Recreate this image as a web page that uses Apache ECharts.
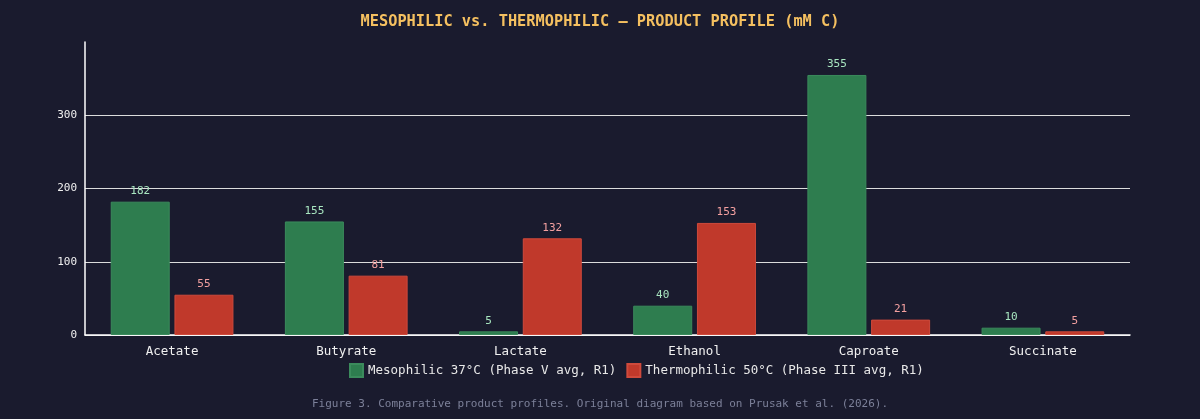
<!DOCTYPE html>
<html>
<head>
<meta charset="utf-8">
<script src="https://cdn.jsdelivr.net/npm/echarts@6/dist/echarts.min.js"></script>
<style>
    html, body { margin:0; padding:0; background:#1a1b2e; }
    #chart { width:1200px; height:419px; }
</style>
</head>
<body>
<div id="chart"></div>
<script>
/* 数据 */
const categories = ["Acetate", "Butyrate", "Lactate", "Ethanol", "Caproate", "Succinate"];

const mesoValues = [182, 155, 5, 40, 355, 10];

const thermoValues = [55, 81, 132, 153, 21, 5];

const seriesNames = [
    "Mesophilic 37°C (Phase V avg, R1)",
    "Thermophilic 50°C (Phase III avg, R1)"
];

const yTicks = [0, 100, 200, 300, 400];

const font = "'DejaVu Sans Mono', monospace";

const chart = echarts.init(document.getElementById("chart"));

chart.setOption({

    backgroundColor:"#1a1b2e",

    textStyle:{ fontFamily:font },

    title:[
        {
            text:"MESOPHILIC vs. THERMOPHILIC — PRODUCT PROFILE (mM C)",
            left:"center",
            top:10,
            textStyle:{
                color:"#f5c060",
                fontSize:15.3,
                fontWeight:"bold",
                fontFamily:font
            }
        },
        {
            text:"Figure 3. Comparative product profiles. Original diagram based on Prusak et al. (2026).",
            left:"center",
            top:394,
            textStyle:{
                color:"#7c8099",
                fontSize:11,
                fontWeight:"normal",
                fontFamily:font
            }
        }
    ],

    /* 图例 */
    legend:{
        data:seriesNames,
        top:358,
        left:344,
        icon:"rect",
        itemWidth:13,
        itemHeight:13,
        itemGap:10,
        textStyle:{
            color:"#e8e8e8",
            fontSize:12.5,
            fontFamily:font
        }
    },

    grid:{
        left:85,
        right:70,
        top:42,
        bottom:84
    },

    xAxis:{
        type:"category",
        data:categories,
        axisLine:{ lineStyle:{ color:"#ffffff", width:1.5 } },
        axisTick:{ show:false },
        axisLabel:{
            color:"#f0f0f0",
            fontSize:12.5,
            margin:10,
            fontFamily:font
        }
    },

    yAxis:{
        type:"value",
        min:yTicks[0],
        max:yTicks[yTicks.length - 1],
        interval:100,
        axisLine:{ show:true, lineStyle:{ color:"#ffffff", width:1.5 } },
        axisTick:{ show:false },
        axisLabel:{
            color:"#f0f0f0",
            fontSize:11,
            margin:8,
            showMaxLabel:false,
            fontFamily:font
        },
        splitLine:{
            show:true,
            showMaxLine:false,
            lineStyle:{ color:"#dcdcdc", width:1.2 }
        }
    },

    series:[
        {
            name:seriesNames[0],
            type:"bar",
            data:mesoValues,
            barWidth:59,
            barGap:"8%",
            itemStyle:{
                color:"#2e7d4f",
                borderColor:"#3b8b5c",
                borderWidth:1,
                borderRadius:0
            },
            label:{
                show:true,
                position:"top",
                distance:5,
                color:"#a8e6c0",
                fontSize:11,
                fontFamily:font
            }
        },
        {
            name:seriesNames[1],
            type:"bar",
            data:thermoValues,
            barWidth:59,
            barGap:"8%",
            itemStyle:{
                color:"#c0392b",
                borderColor:"#cf4a3c",
                borderWidth:1,
                borderRadius:0
            },
            label:{
                show:true,
                position:"top",
                distance:5,
                color:"#f4a0a0",
                fontSize:11,
                fontFamily:font
            }
        }
    ]
});
</script>
</body>
</html>
